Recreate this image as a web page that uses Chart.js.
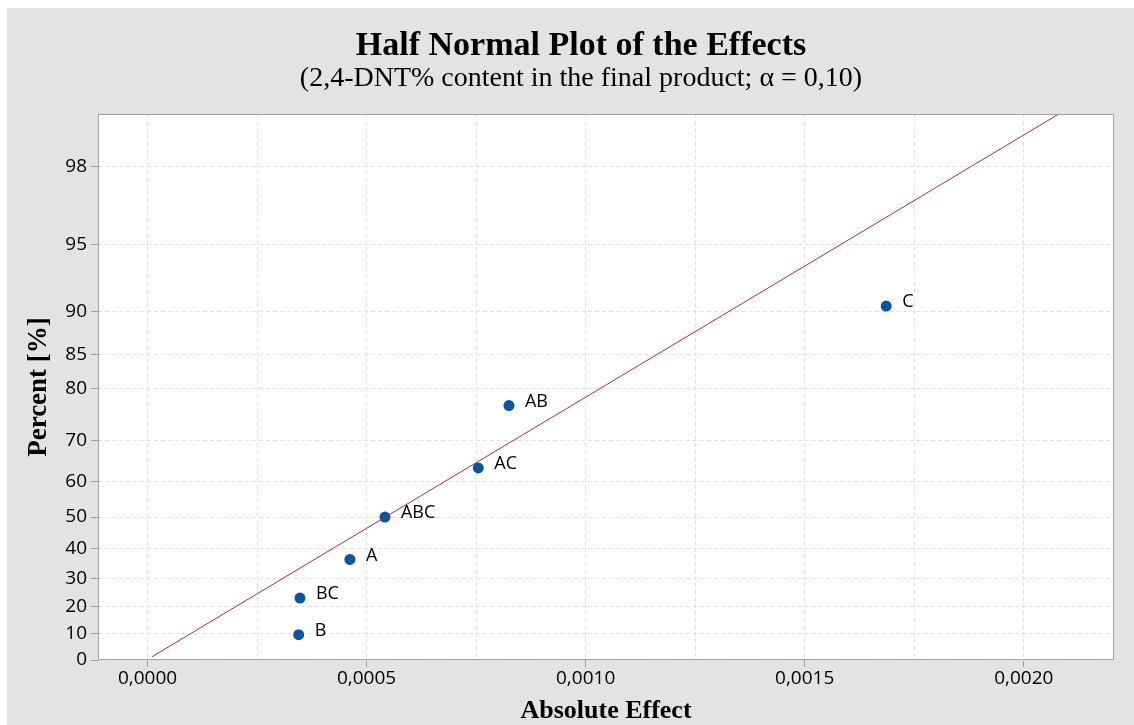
<!DOCTYPE html>
<html>
<head>
<meta charset="utf-8">
<title>Half Normal Plot of the Effects</title>
<script src="https://cdn.jsdelivr.net/npm/chart.js@4.4.0/dist/chart.umd.min.js"></script>
<style>
  html, body { margin: 0; padding: 0; background: #fff; }
  #wrap { width: 1134px; height: 725px; }
</style>
</head>
<body>
<div id="wrap"><canvas id="chart" width="1134" height="725"></canvas></div>
<script>
// effects
const effectNames = ['B', 'BC', 'A', 'ABC', 'AC', 'AB', 'C'];
const effectValues = [0.000345, 0.000348, 0.000462, 0.000542, 0.000755, 0.000825, 0.001686];
const effectPercents = [9.5, 23.0, 36.5, 50.0, 63.5, 77.0, 90.5];

// reference line
const lineEffect = [0.00001, 0.00208];
const linePercent = [1.2, 99];

// axes
const percentTicks = [0, 10, 20, 30, 40, 50, 60, 70, 80, 85, 90, 95, 98];
const effectTicks = [0, 0.00025, 0.0005, 0.00075, 0.001, 0.00125, 0.0015, 0.00175, 0.002];
const effectTickLabels = ['0,0000', '', '0,0005', '', '0,0010', '', '0,0015', '', '0,0020'];

// inverse normal cdf (Acklam)
const normInv = (p) => {
  const a = [-39.69683028665376, 220.9460984245205, -275.9285104469687, 138.3577518672690, -30.66479806614716, 2.506628277459239];
  const b = [-54.47609879822406, 161.5858368580409, -155.6989798598866, 66.80131188771972, -13.28068155288572];
  const c = [-0.007784894002430293, -0.3223964580411365, -2.400758277161838, -2.549732539343734, 4.374664141464968, 2.938163982698783];
  const d = [0.007784695709041462, 0.3224671290700398, 2.445134137142996, 3.754408661907416];
  const pl = 0.02425;
  if (p <= 0) return -Infinity;
  if (p >= 1) return Infinity;
  if (p < pl) {
    const q = Math.sqrt(-2 * Math.log(p));
    return (((((c[0]*q+c[1])*q+c[2])*q+c[3])*q+c[4])*q+c[5]) / ((((d[0]*q+d[1])*q+d[2])*q+d[3])*q+1);
  }
  if (p > 1 - pl) {
    const q = Math.sqrt(-2 * Math.log(1 - p));
    return -(((((c[0]*q+c[1])*q+c[2])*q+c[3])*q+c[4])*q+c[5]) / ((((d[0]*q+d[1])*q+d[2])*q+d[3])*q+1);
  }
  const q = p - 0.5, r = q * q;
  return (((((a[0]*r+a[1])*r+a[2])*r+a[3])*r+a[4])*r+a[5])*q / (((((b[0]*r+b[1])*r+b[2])*r+b[3])*r+b[4])*r+1);
};

const normCdf = (z) => {
  // Abramowitz-Stegun erf
  const x = Math.abs(z) / Math.SQRT2;
  const t = 1 / (1 + 0.3275911 * x);
  const y = 1 - (((((1.061405429*t - 1.453152027)*t) + 1.421413741)*t - 0.284496736)*t + 0.254829592)*t*Math.exp(-x*x);
  return z >= 0 ? 0.5 * (1 + y) : 0.5 * (1 - y);
};

// half normal score for a percent
const halfNormal = (pct) => normInv(0.5 + pct / 200);

class HalfNormalScale extends Chart.LinearScale {
  buildTicks() {
    return percentTicks.map(v => ({ value: v }));
  }
  getPixelForValue(value) {
    if (value === null || value === undefined) return NaN;
    const lo = halfNormal(this.min), hi = halfNormal(this.max);
    return this.getPixelForDecimal((halfNormal(value) - lo) / (hi - lo));
  }
  getValueForPixel(pixel) {
    const lo = halfNormal(this.min), hi = halfNormal(this.max);
    const z = lo + this.getDecimalForPixel(pixel) * (hi - lo);
    return (2 * normCdf(z) - 1) * 100;
  }
}
HalfNormalScale.id = 'halfnormal';
HalfNormalScale.defaults = Chart.LinearScale.defaults;
Chart.register(HalfNormalScale);

const background = {
  id: 'background',
  beforeDraw(chart) {
    const { ctx, chartArea: a } = chart;
    ctx.save();
    ctx.fillStyle = '#e3e3e3';
    ctx.fillRect(7, 8, chart.width - 7, chart.height - 8);
    ctx.fillStyle = '#ffffff';
    ctx.fillRect(a.left, a.top, a.right - a.left, a.bottom - a.top);
    ctx.restore();
  },
  afterDatasetsDraw(chart) {
    const { ctx, chartArea: a } = chart;
    // point labels
    const meta = chart.getDatasetMeta(1);
    ctx.save();
    ctx.font = '18px "Open Sans"';
    ctx.fillStyle = '#000';
    ctx.textAlign = 'left';
    ctx.textBaseline = 'middle';
    meta.data.forEach((pt, i) => {
      ctx.fillText(effectNames[i], pt.x + 16, pt.y - 4);
    });
    // frame
    ctx.strokeStyle = '#a3a3a3';
    ctx.lineWidth = 1;
    ctx.strokeRect(a.left + 0.5, a.top + 0.5, a.right - a.left - 1, a.bottom - a.top - 1);
    ctx.restore();
  }
};

const tickFont = { family: '"Open Sans", sans-serif', size: 19 };
const serifBold = { family: '"Liberation Serif", "Times New Roman", serif', weight: 'bold' };

new Chart(document.getElementById('chart'), {
  type: 'scatter',
  data: {
    datasets: [
      {
        label: 'Reference line',
        data: lineEffect.map((x, i) => ({ x: x, y: linePercent[i] })),
        showLine: true,
        borderColor: '#b02e3a',
        borderWidth: 1,
        pointRadius: 0,
        fill: false
      },
      {
        label: 'Effects',
        data: effectValues.map((x, i) => ({ x: x, y: effectPercents[i] })),
        backgroundColor: '#0a54a4',
        borderWidth: 0,
        pointRadius: 5.5
      }
    ]
  },
  options: {
    responsive: false,
    animation: false,
    events: [],
    layout: { padding: { left: 28, right: 0, top: 0, bottom: 0 } },
    plugins: {
      legend: { display: false },
      tooltip: { enabled: false },
      title: {
        display: true,
        text: 'Half Normal Plot of the Effects',
        color: '#000',
        font: { ...serifBold, size: 34, lineHeight: 1 },
        padding: { top: 29, bottom: 0 }
      },
      subtitle: {
        display: true,
        text: '(2,4-DNT% content in the final product; α = 0,10)',
        color: '#000',
        font: { family: serifBold.family, size: 28, lineHeight: 1 },
        padding: { top: 2, bottom: 21 }
      }
    },
    scales: {
      x: {
        type: 'linear',
        position: 'bottom',
        min: -0.000113,
        max: 0.002206,
        afterBuildTicks: (scale) => { scale.ticks = effectTicks.map(v => ({ value: v })); },
        afterFit: (scale) => { scale.height = 65; },
        ticks: {
          autoSkip: false,
          maxRotation: 0,
          padding: 0,
          color: '#000',
          font: tickFont,
          callback: (v, i) => effectTickLabels[i]
        },
        grid: {
          color: '#e0e0e0',
          tickLength: 7,
          tickColor: (ctx) => effectTickLabels[ctx.index] ? '#9e9e9e' : 'rgba(0,0,0,0)',
          tickBorderDash: []
        },
        border: { display: false, dash: [4, 3] },
        title: {
          display: true,
          text: 'Absolute Effect',
          color: '#000',
          font: { ...serifBold, size: 26 },
          padding: { top: 0, bottom: -2 }
        }
      },
      y: {
        type: 'halfnormal',
        position: 'left',
        min: 0,
        max: 99,
        afterFit: (scale) => { scale.width = 70; },
        ticks: {
          autoSkip: false,
          padding: 4,
          color: '#000',
          font: tickFont,
          callback: (v) => String(v)
        },
        grid: {
          color: '#e0e0e0',
          tickLength: 7,
          tickColor: '#9e9e9e',
          tickBorderDash: []
        },
        border: { display: false, dash: [4, 3] },
        title: {
          display: true,
          text: 'Percent [%]',
          color: '#000',
          font: { ...serifBold, size: 27, lineHeight: 0.75 },
          padding: { top: 1, bottom: 0 }
        }
      },
      spacer: {
        type: 'linear',
        position: 'right',
        display: true,
        afterFit: (scale) => { scale.width = 20; },
        ticks: { display: false },
        grid: { display: false },
        border: { display: false }
      }
    }
  },
  plugins: [background]
});
</script>
</body>
</html>
